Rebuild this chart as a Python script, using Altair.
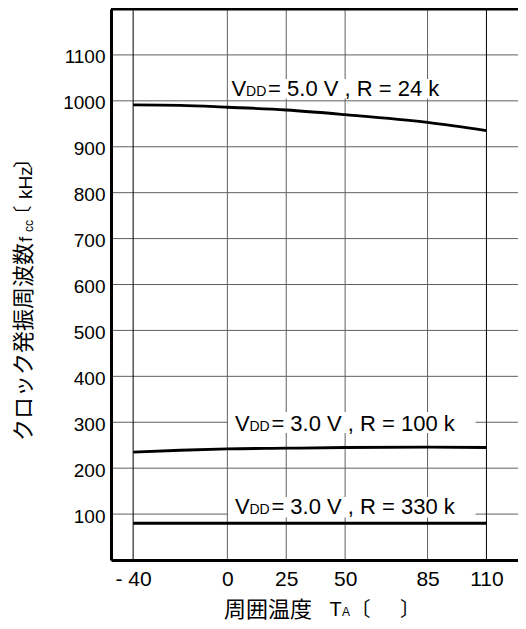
import altair as alt
import pandas as pd

# ---------------- data ----------------
temps = [-40, -20, 0, 25, 50, 85, 110]
f_5v_24k = [991, 990, 986, 980, 970, 953, 935]
f_3v_100k = [235, 239, 242, 243.5, 245, 246, 245]
f_3v_330k = [80, 80, 80, 80, 80, 80, 80]
series_names = ["VDD=5.0V,R=24k", "VDD=3.0V,R=100k", "VDD=3.0V,R=330k"]

x_ticks = [-40, 0, 25, 50, 85, 110]
x_tick_labels = ["- 40", "0", "25", "50", "85", "110"]
y_ticks = [100, 200, 300, 400, 500, 600, 700, 800, 900, 1000, 1100]
x_grid_dark = [-40, 110]
x_grid_gray = [0, 25, 50, 85]

label_main = ["V", "V", "V"]
label_sub = ["DD", "DD", "DD"]
label_rest = ["= 5.0 V , R = 24 k", "= 3.0 V , R = 100 k", "= 3.0 V , R = 330 k"]
label_x = [1.8, 3.2, 3.2]
label_y = [1010.5, 281.2, 100.2]
box_x = [0.3, 0.3, 0.3]
box_x2 = [90.3, 105.4, 105.4]
box_y = [1005, 276.6, 92.8]
box_y2 = [1047.5, 322.3, 137.2]

X_DOMAIN = [-49.4, 123.4]
Y_DOMAIN = [0, 1200]

LATIN = "Liberation Sans"
CJK = "Noto Sans CJK JP"
GRID = "#606060"

xs = alt.Scale(domain=X_DOMAIN, nice=False, zero=False)
ys = alt.Scale(domain=Y_DOMAIN, nice=False, zero=False)

# label expression built from the tick lists
expr = "datum.label"
for v, l in reversed(list(zip(x_ticks, x_tick_labels))):
    expr = f"datum.value == {v} ? '{l}' : ({expr})"

ax_x = alt.Axis(
    values=x_ticks, labelExpr=expr, title=None, grid=False, ticks=False, tickSize=0,
    domain=True, domainColor="black", domainWidth=3, labelFont=LATIN, labelFontSize=21,
    labelColor="black", labelPadding=8, zindex=1, labelFlush=False, labelOverlap=False,
)
ax_y = alt.Axis(
    values=y_ticks, format="d", title=None, grid=False, ticks=False, tickSize=0,
    domain=True, domainColor="black", domainWidth=3, labelFont=LATIN, labelFontSize=19,
    labelColor="black", labelPadding=6, labelOffset=2, zindex=1, labelFlush=False,
    labelOverlap=False,
)


def X(f):
    return alt.X(f, scale=xs, axis=ax_x)


def Y(f):
    return alt.Y(f, scale=ys, axis=ax_y)


# ---------------- layers ----------------
vgrid_gray = alt.Chart(pd.DataFrame({"x": x_grid_gray})).mark_rule(
    color=GRID, strokeWidth=1
).encode(x=X("x:Q"))

vgrid_dark = alt.Chart(pd.DataFrame({"x": x_grid_dark})).mark_rule(
    color="black", strokeWidth=1
).encode(x=X("x:Q"))

hgrid = alt.Chart(pd.DataFrame({"y": y_ticks})).mark_rule(
    color=GRID, strokeWidth=1
).encode(y=Y("y:Q"))

boxes = alt.Chart(pd.DataFrame({"x": box_x, "x2": box_x2, "y": box_y, "y2": box_y2})).mark_rect(
    color="white"
).encode(x=X("x:Q"), x2="x2:Q", y=Y("y:Q"), y2="y2:Q")

df_lines = pd.DataFrame({
    "x": temps * 3,
    "y": f_5v_24k + f_3v_100k + f_3v_330k,
    "s": [series_names[0]] * len(temps) + [series_names[1]] * len(temps) + [series_names[2]] * len(temps),
})

lines = alt.Chart(df_lines).mark_line(
    color="black", strokeWidth=2.8, interpolate="monotone"
).encode(x=X("x:Q"), y=Y("y:Q"), detail="s:N")

df_labels = pd.DataFrame({"x": label_x, "y": label_y, "m": label_main, "sub": label_sub, "rest": label_rest})
lab_base = alt.Chart(df_labels).encode(x=X("x:Q"), y=Y("y:Q"))
lab_v = lab_base.mark_text(font=LATIN, fontSize=22, align="left", baseline="alphabetic", color="black").encode(text="m:N")
lab_dd = lab_base.mark_text(font=LATIN, fontSize=14, align="left", baseline="alphabetic", color="black", dx=14.5).encode(text="sub:N")
lab_rest = lab_base.mark_text(font=LATIN, fontSize=22, align="left", baseline="alphabetic", color="black", dx=36.5).encode(text="rest:N")

top_border = alt.Chart(pd.DataFrame({"y": [Y_DOMAIN[1]]})).mark_rule(
    color="black", strokeWidth=3
).encode(y=Y("y:Q"))


def piece(text, px, py, size, font, angle=0, baseline="alphabetic"):
    return alt.Chart(pd.DataFrame({"t": [text]})).mark_text(
        font=font, fontSize=size, angle=angle, align="left", baseline=baseline, color="black"
    ).encode(text="t:N", x=alt.value(px), y=alt.value(py))


# axis titles (with subscripts) as text pieces
ytitle = [
    ("クロック発振周波数", -87, 432, 22, CJK, "middle"),
    ("f", -79.5, 233, 19, LATIN, "alphabetic"),
    ("cc", -78.5, 223, 12, LATIN, "alphabetic"),
    ("〔", -87, 215.5, 19, CJK, "middle"),
    ("kHz", -79.5, 190, 19, LATIN, "alphabetic"),
    ("〕", -87, 159, 19, CJK, "middle"),
]
xtitle = [
    ("周囲温度", 113, 600.5, 22, CJK, "middle"),
    ("T", 218.5, 607, 20, LATIN, "alphabetic"),
    ("A", 231, 607, 12, LATIN, "alphabetic"),
    ("〔", 239.5, 600.5, 20, CJK, "middle"),
    ("〕", 289, 600.5, 20, CJK, "middle"),
]
title_layers = [piece(t, px, py, s, f, 270, b) for (t, px, py, s, f, b) in ytitle]
title_layers += [piece(t, px, py, s, f, 0, b) for (t, px, py, s, f, b) in xtitle]

chart = alt.layer(
    hgrid, vgrid_gray, vgrid_dark, boxes, lines, lab_v, lab_dd, lab_rest, top_border, *title_layers
).properties(
    width=407, height=551,
    padding={"left": 103, "top": 1, "right": 0, "bottom": 61},
    autosize=alt.AutoSizeParams(type="none"),
    background="white",
).configure_view(stroke=None)

chart.save("out.html", embed_options={"renderer": "svg", "actions": False})
